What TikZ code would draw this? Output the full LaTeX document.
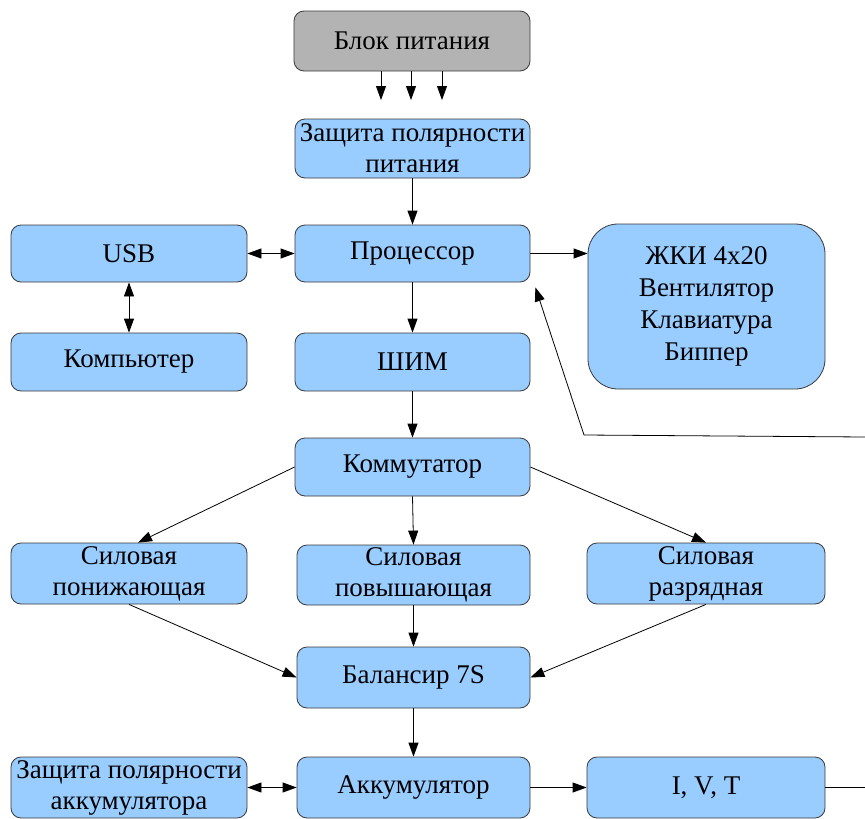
\documentclass[tikz,border=0pt]{standalone}
\usepackage{fontspec}
\setmainfont{Liberation Serif}
\usetikzlibrary{arrows.meta,calc}
\definecolor{boxblue}{HTML}{99CCFF}
\definecolor{boxgray}{HTML}{B3B3B3}
\definecolor{boxline}{HTML}{3A3A3A}
\begin{document}
\begin{tikzpicture}[x=1pt,y=-1pt,
  blk/.style={draw=boxline, line width=0.8pt, fill=boxblue, rounded corners=10pt,
    inner sep=0pt, align=center, font=\fontsize{27}{31}\selectfont},
  arr/.style={line width=0.8pt, -{Triangle[length=14pt,width=10pt]}},
  darr/.style={line width=0.8pt, {Triangle[length=14pt,width=10pt]}-{Triangle[length=14pt,width=10pt]}},
  ln/.style={line width=0.8pt}]
\useasboundingbox (0,0) rectangle (865,819);
\node[blk, fill=boxgray, minimum width=236pt, minimum height=60pt] (pwr) at (412,41) {Блок питания};
\node[blk, minimum width=235pt, minimum height=59pt] (zp) at (412.5,148.5) {Защита полярности\\питания};
\node[blk, minimum width=235pt, minimum height=57pt] (cpu) at (412.5,253.5) {Процессор};
\node[blk, minimum width=236pt, minimum height=57pt] (usb) at (129,253.5) {USB};
\node[blk, minimum width=236pt, minimum height=58pt] (pc) at (129,362) {Компьютер};
\node[blk, rounded corners=30pt, minimum width=237pt, minimum height=165pt, font=\fontsize{27}{32}\selectfont] (lcd) at (706.5,306.5) {ЖКИ 4x20\\Вентилятор\\Клавиатура\\Биппер};
\node[blk, minimum width=235pt, minimum height=58pt] (pwm) at (412.5,362) {ШИМ};
\node[blk, minimum width=235pt, minimum height=58pt] (com) at (412.5,467) {Коммутатор};
\node[blk, minimum width=236pt, minimum height=61pt] (buck) at (129,573.5) {Силовая\\понижающая};
\node[blk, minimum width=233pt, minimum height=60pt] (boost) at (413.5,575) {Силовая\\повышающая};
\node[blk, minimum width=238pt, minimum height=61pt] (dis) at (706,573.5) {Силовая\\разрядная};
\node[blk, minimum width=233pt, minimum height=61pt] (bal) at (413.5,677.5) {Балансир 7S};
\node[blk, minimum width=236pt, minimum height=61pt] (zacc) at (129,787.5) {Защита полярности\\аккумулятора};
\node[blk, minimum width=233pt, minimum height=61pt] (acc) at (413.5,787.5) {Аккумулятор};
\node[blk, minimum width=238pt, minimum height=61pt] (ivt) at (706,787.5) {I, V, T};
% power block arrows
\coordinate (p1) at (381,100);
\coordinate (p2) at (411,100);
\coordinate (p3) at (442,100);
\draw[arr] (p1 |- pwr.south) -- (p1);
\draw[arr] (p2 |- pwr.south) -- (p2);
\draw[arr] (p3 |- pwr.south) -- (p3);
\draw[arr] (zp.south) -- (cpu.north);
\draw[darr] (usb.east) -- (cpu.west);
\draw[darr] (usb.south) -- (pc.north);
\draw[arr] (cpu.east) -- (lcd.west |- cpu.east);
\draw[arr] (cpu.south) -- (pwm.north);
\draw[arr] (pwm.south) -- (com.north);
\draw[arr] (com.west) -- ($(buck.north)+(9,0)$);
\draw[arr] (com.south) -- (boost.north);
\draw[arr] (com.east) -- (dis.north);
\draw[arr] (buck.south) -- (bal.west);
\draw[arr] (boost.south) -- (bal.north);
\draw[arr] (dis.south) -- (bal.east);
\draw[arr] (bal.south) -- (acc.north);
\draw[darr] (zacc.east) -- (acc.west);
\draw[arr] (acc.east) -- (ivt.west);
\coordinate (o1) at (865,787.5);
\draw[ln] (ivt.east) -- (o1);
\coordinate (f1) at (865,437);
\coordinate (f2) at (584,435);
\draw[arr] (f1) -- (f2) -- ($(cpu.south east)+(5,5)$);
\end{tikzpicture}
\end{document}
